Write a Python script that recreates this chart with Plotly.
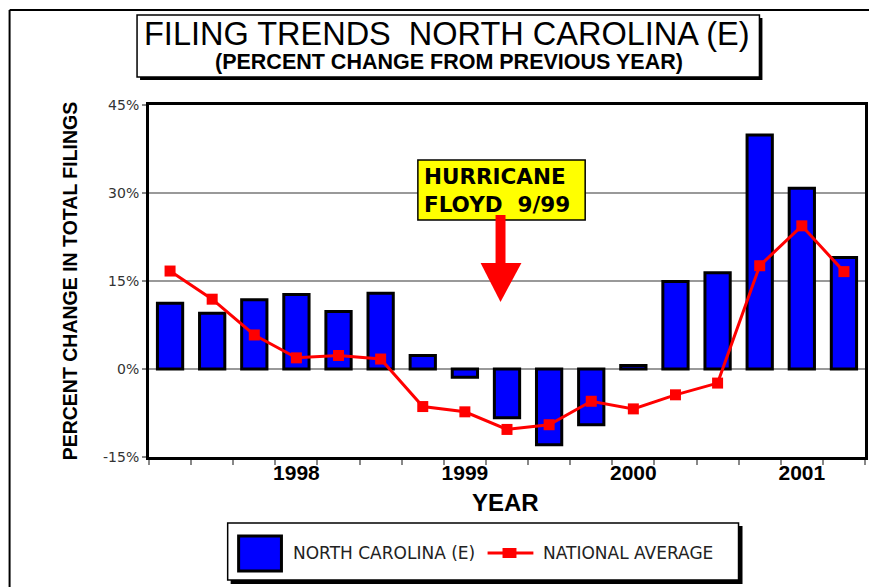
import plotly.graph_objects as go

# ---- data ----
period_index = list(range(17))
nc_values = [11.2, 9.5, 11.8, 12.7, 9.8, 12.9, 2.3, -1.4, -8.3, -12.9, -9.5, 0.6, 14.9, 16.4, 39.9, 30.8, 19.0]
nat_values = [16.7, 11.9, 5.8, 1.9, 2.3, 1.7, -6.4, -7.3, -10.3, -9.5, -5.5, -6.8, -4.4, -2.4, 17.6, 24.4, 16.6]
year_tick_pos = [3, 7, 11, 15]
year_tick_labels = ["1998", "1999", "2000", "2001"]
y_ticks = [-15, 0, 15, 30, 45]
y_tick_labels = ["-15%", "0%", "15%", "30%", "45%"]

OFF = 8  # page body margin
PAGE_W, PAGE_H = 877, 587
W, H = PAGE_W - OFF, PAGE_H - OFF
# plot area in page pixels
PX0, PX1, PY0, PY1 = 149, 868, 105, 457
L, R, T, B = PX0 - OFF, PAGE_W - PX1, PY0 - OFF, PAGE_H - PY1
PW, PH = PX1 - PX0, PY1 - PY0

def xp(px):
    return (px - PX0) / PW

def yp(py):
    return (PY1 - py) / PH

NARROW = "Liberation Sans Narrow, Arial Narrow, Liberation Sans, Arial, sans-serif"
ARIAL = "Liberation Sans, Arial, sans-serif"
DEJAVU = "DejaVu Sans, Verdana, sans-serif"

fig = go.Figure()
fig.add_trace(go.Bar(
    x=period_index, y=nc_values, name="NORTH CAROLINA (E)",
    marker=dict(color="#0000FF", line=dict(color="black", width=3)),
    width=0.6, showlegend=False,
))
fig.add_trace(go.Scatter(
    x=period_index, y=nat_values, name="NATIONAL AVERAGE", mode="lines+markers",
    line=dict(color="#FF0000", width=3),
    marker=dict(symbol="square", size=11, color="#FF0000"),
    showlegend=False,
))

shapes = []
annotations = []

# outer page frame (top and left)
shapes.append(dict(type="line", xref="paper", yref="paper", x0=xp(9), x1=xp(877), y0=yp(10), y1=yp(10),
                   line=dict(color="black", width=2)))
shapes.append(dict(type="line", xref="paper", yref="paper", x0=xp(9), x1=xp(9), y0=yp(10), y1=yp(587),
                   line=dict(color="black", width=2)))

# title box with shadow
shapes.append(dict(type="rect", xref="paper", yref="paper", x0=xp(140), x1=xp(765), y0=yp(18), y1=yp(80),
                   fillcolor="black", line=dict(width=0)))
shapes.append(dict(type="rect", xref="paper", yref="paper", x0=xp(137), x1=xp(762), y0=yp(15), y1=yp(77),
                   fillcolor="white", line=dict(color="black", width=1.5)))
annotations.append(dict(xref="paper", yref="paper", x=xp(448), y=yp(34), text="FILING TRENDS  NORTH CAROLINA (E)",
                        showarrow=False, font=dict(family=ARIAL, size=32.5, color="black"),
                        xanchor="center", yanchor="middle"))
annotations.append(dict(xref="paper", yref="paper", x=xp(450), y=yp(62), text="(PERCENT CHANGE FROM PREVIOUS YEAR)",
                        showarrow=False, font=dict(family=NARROW, size=21.5, color="black", weight="bold"),
                        xanchor="center", yanchor="middle"))

# hurricane annotation box
shapes.append(dict(type="rect", xref="paper", yref="paper", x0=xp(419), x1=xp(587), y0=yp(160), y1=yp(220),
                   fillcolor="#FFFF00", line=dict(color="black", width=1.5)))
annotations.append(dict(xref="paper", yref="paper", x=xp(423), y=yp(190), text="HURRICANE<br>FLOYD  9/99",
                        showarrow=False, align="left", font=dict(family=DEJAVU, size=21.5, color="black", weight="bold"),
                        xanchor="left", yanchor="middle"))
# red arrow
shapes.append(dict(type="rect", xref="paper", yref="paper", x0=xp(497), x1=xp(507), y0=yp(215), y1=yp(265),
                   fillcolor="#FF0000", line=dict(width=0)))
shapes.append(dict(type="path", xref="paper", yref="paper",
                   path=f"M {xp(482)},{yp(263)} L {xp(523)},{yp(263)} L {xp(502)},{yp(302)} Z",
                   fillcolor="#FF0000", line=dict(width=0)))

# axis titles
annotations.append(dict(xref="paper", yref="paper", x=xp(70), y=yp(281), text="PERCENT CHANGE IN TOTAL FILINGS",
                        textangle=-90, showarrow=False, font=dict(family=NARROW, size=19.5, color="black", weight="bold"),
                        xanchor="center", yanchor="middle"))
annotations.append(dict(xref="paper", yref="paper", x=xp(507), y=yp(502), text="YEAR",
                        showarrow=False, font=dict(family=NARROW, size=24, color="black", weight="bold"),
                        xanchor="center", yanchor="middle"))

# custom legend
shapes.append(dict(type="rect", xref="paper", yref="paper", x0=xp(231), x1=xp(745), y0=yp(526), y1=yp(584),
                   fillcolor="black", line=dict(width=0)))
shapes.append(dict(type="rect", xref="paper", yref="paper", x0=xp(228), x1=xp(741), y0=yp(523), y1=yp(580),
                   fillcolor="white", line=dict(color="black", width=1.5)))
shapes.append(dict(type="rect", xref="paper", yref="paper", x0=xp(239), x1=xp(282), y0=yp(536), y1=yp(571),
                   fillcolor="#0000FF", line=dict(color="black", width=3)))
shapes.append(dict(type="line", xref="paper", yref="paper", x0=xp(489), x1=xp(535), y0=yp(553), y1=yp(553),
                   line=dict(color="#FF0000", width=3)))
shapes.append(dict(type="rect", xref="paper", yref="paper", x0=xp(504), x1=xp(518), y0=yp(548), y1=yp(558),
                   fillcolor="#FF0000", line=dict(width=0)))
annotations.append(dict(xref="paper", yref="paper", x=xp(292), y=yp(553), text="NORTH CAROLINA (E)",
                        showarrow=False, font=dict(family=DEJAVU, size=17, color="#222"),
                        xanchor="left", yanchor="middle"))
annotations.append(dict(xref="paper", yref="paper", x=xp(543), y=yp(553), text="NATIONAL AVERAGE",
                        showarrow=False, font=dict(family=DEJAVU, size=17, color="#222"),
                        xanchor="left", yanchor="middle"))

fig.update_layout(
    width=W, height=H,
    margin=dict(l=L, r=R, t=T, b=B),
    paper_bgcolor="white", plot_bgcolor="white",
    shapes=shapes, annotations=annotations,
    bargap=0.4,
)
fig.update_xaxes(
    range=[-0.5, 16.5], tickmode="array", tickvals=year_tick_pos, ticktext=year_tick_labels,
    ticks="", showgrid=False, zeroline=False,
    showline=True, linecolor="black", linewidth=3, mirror=True,
    tickfont=dict(family=NARROW, size=21, color="black", weight="bold"),
    ticklabelstandoff=-5,
    minor=dict(tickmode="array", tickvals=[i - 0.5 for i in range(18)], ticks="outside",
               ticklen=5, tickcolor="#888", tickwidth=1.5, showgrid=False),
)
fig.update_yaxes(
    range=[-15, 45], tickmode="array", tickvals=y_ticks, ticktext=y_tick_labels,
    ticks="outside", ticklen=4, tickcolor="#888", tickwidth=1.5,
    showgrid=True, gridcolor="#999", gridwidth=1.5,
    zeroline=True, zerolinecolor="#999", zerolinewidth=1.5,
    showline=True, linecolor="black", linewidth=3, mirror=True,
    tickfont=dict(family=DEJAVU, size=14, color="#333"),
)

fig.write_html("out.html")
